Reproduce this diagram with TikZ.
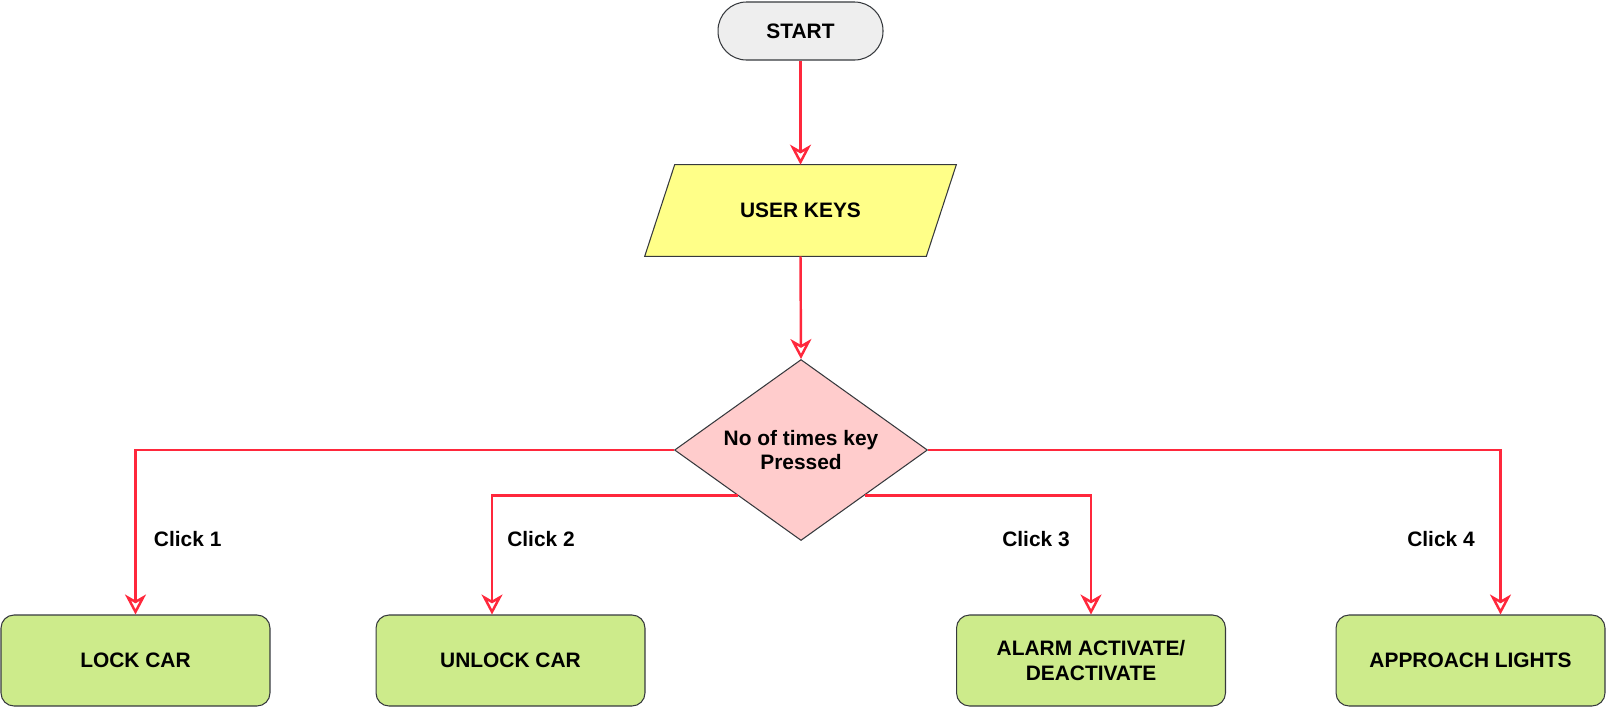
\documentclass[tikz,border=0pt]{standalone}
\usepackage{fontspec}
\setmainfont{Liberation Sans}
\usetikzlibrary{arrows.meta,positioning,shapes.geometric}

\definecolor{flowred}{RGB}{255,40,60}
\definecolor{edgegray}{RGB}{54,57,61}
\definecolor{startgray}{RGB}{238,238,238}
\definecolor{inyellow}{RGB}{255,255,136}
\definecolor{decpink}{RGB}{255,204,204}
\definecolor{actgreen}{RGB}{205,235,139}

\begin{document}
\begin{tikzpicture}[x=0.02cm,y=-0.02cm,
  every node/.style={font=\fontsize{11.9}{14.2}\selectfont\bfseries,align=center},
  shapebase/.style={draw=edgegray,line width=0.6pt,inner sep=2pt},
  actbox/.style={shapebase,fill=actgreen,rounded corners=0.26cm,minimum width=5.38cm,minimum height=1.82cm},
  flow/.style={draw=flowred,line width=1.4pt,-{Stealth[length=0.4cm,width=0.42cm,inset=0.12cm,fill=white]}}]
\useasboundingbox (0,0) rectangle (1608,708);
\node[shapebase,fill=startgray,rounded corners=0.57cm,minimum width=3.3cm,minimum height=1.16cm] (start) at (800.5,31) {START};
% input slanted box
\node[minimum width=6.22cm,minimum height=1.82cm,inner sep=0pt] (keys) at (800.5,210.5) {};
\filldraw[draw=edgegray,line width=0.6pt,fill=inyellow] (keys.south west) -- ([xshift=0.6cm]keys.north west) -- (keys.north east) -- ([xshift=-0.6cm]keys.south east) -- cycle;
\node at (keys.center) {USER KEYS};
\node[shapebase,fill=decpink,diamond,aspect=1.4,minimum width=5.06cm,minimum height=3.62cm,inner sep=0pt] (press) at (801,450) {No of times key\\Pressed};
\node[actbox] (lock) at (135.5,660.5) {LOCK CAR};
\node[actbox] (unlock) at (510.5,660.5) {UNLOCK CAR};
\node[actbox] (alarm) at (1091,660.5) {ALARM ACTIVATE/\\DEACTIVATE};
\node[actbox] (lights) at (1470.5,660.5) {APPROACH LIGHTS};
\draw[flow] (start.south)--(keys.north);
\draw[flow] (keys.south)--(press.north);
\draw[flow] (press.west) -| (lock.north);
\draw[flow] (press.south west) -| ([xshift=-0.37cm]unlock.north);
\draw[flow] (press.south east) -| (alarm.north);
\draw[flow] (press.east) -| ([xshift=0.6cm]lights.north);
\node (c1) at (187.7,539) {Click 1};
\node (c2) at (541,539) {Click 2};
\node (c3) at (1036,539) {Click 3};
\node (c4) at (1441,539) {Click 4};
\end{tikzpicture}
\end{document}
